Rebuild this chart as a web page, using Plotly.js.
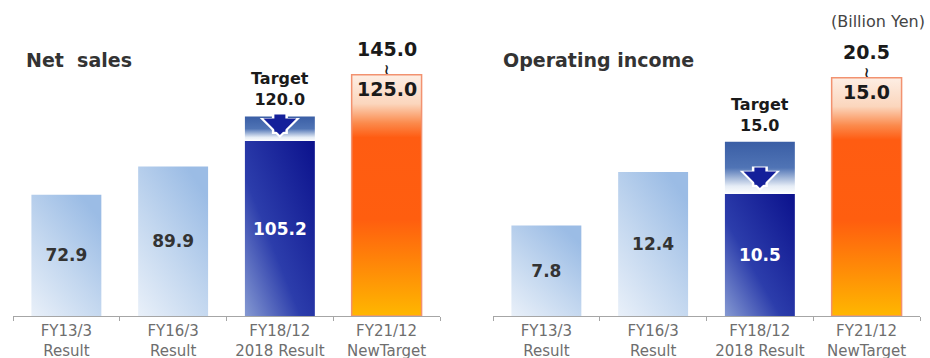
<!DOCTYPE html>
<html>
<head>
<meta charset="utf-8">
<script src="https://cdn.plot.ly/plotly-3.0.1.min.js"></script>
<style>html,body{margin:0;padding:0;background:#fff;}#chart{width:930px;height:358px;}</style>
</head>
<body>
<div id="chart"></div>
<script>
// ---- data ----
const categories = ['FY13/3<br>Result', 'FY16/3<br>Result', 'FY18/12<br>2018 Result', 'FY21/12<br>NewTarget'];
const salesResults = [72.9, 89.9, 105.2];          // FY13/3, FY16/3, FY18/12
const salesPrevTarget = 120.0;                      // FY18/12 target
const salesNewTarget = [125.0, 145.0];              // FY21/12 range (low, high)
const incomeResults = [7.8, 12.4, 10.5];
const incomePrevTarget = 15.0;
const incomeNewTarget = [15.0, 20.5];
const panelTitles = ['Net  sales', 'Operating income'];
const unitLabel = '(Billion Yen)';

const FONT = 'DejaVu Sans, Verdana, sans-serif';
const fmt = v => v.toFixed(1);

function panelTraces(results, prevTarget, newTarget, xa, ya) {
  const last = results.length - 1;
  return [
    { type: 'bar', x: categories.slice(0, last), y: results.slice(0, last), xaxis: xa, yaxis: ya,
      meta: 'gLight', marker: { color: '#b9cfec' },
      text: results.slice(0, last).map(fmt), textposition: 'inside', insidetextanchor: 'middle',
      textfont: { family: FONT, size: 17, color: '#333', weight: 'bold' }, hoverinfo: 'skip' },
    { type: 'bar', x: [categories[last]], y: [results[last]], xaxis: xa, yaxis: ya,
      meta: 'gDark', marker: { color: '#1f2a9e' },
      text: [fmt(results[last])], textposition: 'inside', insidetextanchor: 'middle',
      textfont: { family: FONT, size: 17, color: '#ffffff', weight: 'bold' }, hoverinfo: 'skip' },
    { type: 'bar', x: [categories[last]], base: [results[last]], y: [prevTarget - results[last]], xaxis: xa, yaxis: ya,
      meta: 'gTarget', marker: { color: '#5176b6', line: { color: '#ffffff', width: 0 } }, hoverinfo: 'skip' },
    { type: 'bar', x: [categories[3]], y: [newTarget[1]], xaxis: xa, yaxis: ya,
      meta: 'gOrange', marker: { color: '#ff6a14', line: { color: '#f29270', width: 1.5 } }, hoverinfo: 'skip' }
  ];
}

function panelAnnotations(results, prevTarget, newTarget, xr, yr) {
  const last = results.length - 1;
  const black = '#1a1a1a';
  return [
    { xref: xr, yref: yr, x: categories[last], y: prevTarget, yanchor: 'bottom', yshift: 5, showarrow: false,
      text: 'Target<br>' + fmt(prevTarget), font: { family: FONT, size: 16, color: black, weight: 'bold' } },
    // white outline arrow (behind)
    { xref: xr, yref: yr, x: categories[last], y: results[last], yshift: 3, text: '', showarrow: true,
      ax: 0, ay: -26, arrowhead: 1, arrowwidth: 16, arrowsize: 0.42, arrowcolor: '#ffffff' },
    // dark blue arrow
    { xref: xr, yref: yr, x: categories[last], y: results[last], yshift: 6, text: '', showarrow: true,
      ax: 0, ay: -22, arrowhead: 1, arrowwidth: 11, arrowsize: 0.5, arrowcolor: '#14209a' },
    { xref: xr, yref: yr, x: categories[3], y: newTarget[1], yanchor: 'bottom', yshift: 13, showarrow: false,
      text: fmt(newTarget[1]), font: { family: FONT, size: 19, color: black, weight: 'bold' } },
    { xref: xr, yref: yr, x: categories[3], y: newTarget[1], yanchor: 'middle', yshift: 6, showarrow: false,
      text: '≀', font: { family: FONT, size: 14, color: black, weight: 'bold' } },
    { xref: xr, yref: yr, x: categories[3], y: newTarget[1], yanchor: 'top', yshift: -1, showarrow: false,
      text: fmt(newTarget[0]), font: { family: FONT, size: 19, color: black, weight: 'bold' } }
  ];
}

const data = [].concat(
  panelTraces(salesResults, salesPrevTarget, salesNewTarget, 'x', 'y'),
  panelTraces(incomeResults, incomePrevTarget, incomeNewTarget, 'x2', 'y2')
);

const xaxisBase = {
  type: 'category', categoryorder: 'array', categoryarray: categories, range: [-0.5, 3.5],
  showline: true, linecolor: '#a6a6a6', linewidth: 1, ticks: 'outside', tickson: 'boundaries',
  ticklen: 4, tickcolor: '#a6a6a6', showgrid: false, zeroline: false, fixedrange: true,
  ticklabelstandoff: 1,
  tickfont: { family: FONT, size: 15, color: '#6e6e6e' }
};
const yaxisBase = { showgrid: false, zeroline: false, showticklabels: false, ticks: '', showline: false, fixedrange: true };

const layout = {
  width: 930, height: 358,
  margin: { l: 0, r: 0, t: 0, b: 42 },
  paper_bgcolor: '#ffffff', plot_bgcolor: '#ffffff',
  showlegend: false, barmode: 'overlay', bargap: 0.345,
  xaxis: Object.assign({}, xaxisBase, { domain: [13 / 930, 440 / 930], anchor: 'y' }),
  yaxis: Object.assign({}, yaxisBase, { range: [0, 190], anchor: 'x' }),
  xaxis2: Object.assign({}, xaxisBase, { domain: [493 / 930, 920 / 930], anchor: 'y2' }),
  yaxis2: Object.assign({}, yaxisBase, { range: [0, 27.2], anchor: 'x2' }),
  annotations: [].concat(
    panelAnnotations(salesResults, salesPrevTarget, salesNewTarget, 'x', 'y'),
    panelAnnotations(incomeResults, incomePrevTarget, incomeNewTarget, 'x2', 'y2'),
    [
      { xref: 'paper', yref: 'paper', x: 24 / 930, y: (316 - 60) / 316, xanchor: 'left', yanchor: 'middle', showarrow: false,
        text: panelTitles[0], font: { family: FONT, size: 19, color: '#333333', weight: 'bold' } },
      { xref: 'paper', yref: 'paper', x: 501 / 930, y: (316 - 60) / 316, xanchor: 'left', yanchor: 'middle', showarrow: false,
        text: panelTitles[1], font: { family: FONT, size: 19, color: '#333333', weight: 'bold' } },
      { xref: 'paper', yref: 'paper', x: 927 / 930, y: (316 - 21) / 316, xanchor: 'right', yanchor: 'middle', showarrow: false,
        text: unitLabel, font: { family: FONT, size: 16, color: '#444444' } }
    ]
  )
};

const gradients = {
  gLight: { x1: 0, y1: 1, x2: 0.7, y2: 0, stops: [[0, '#e9f0f9'], [0.5, '#c3d7ef'], [1, '#9bbce5']] },
  gDark: { x1: 0, y1: 1, x2: 1, y2: 0, stops: [[0, '#8599d2'], [0.4, '#2c3dab'], [1, '#0b118c']] },
  gTarget: { x1: 0, y1: 0, x2: 0, y2: 1, stops: [[0, '#3a5ea5'], [0.5, '#5074b5'], [0.85, '#e6edf6'], [1, '#ffffff']] },
  gOrange: { x1: 0, y1: 0, x2: 0, y2: 1, stops: [[0, '#fdeee4'], [0.12, '#fbd6bd'], [0.2, '#fb8a4c'], [0.26, '#ff5c12'], [0.6, '#ff5e0f'], [1, '#ffb700']] }
};

function applyGradients(gd) {
  const ns = 'http://www.w3.org/2000/svg';
  const svg = gd.querySelector('.main-svg');
  let defs = svg.querySelector('defs');
  if (!defs) { defs = document.createElementNS(ns, 'defs'); svg.insertBefore(defs, svg.firstChild); }
  Object.keys(gradients).forEach(id => {
    const g = gradients[id];
    const lg = document.createElementNS(ns, 'linearGradient');
    lg.setAttribute('id', id);
    lg.setAttribute('x1', g.x1); lg.setAttribute('y1', g.y1);
    lg.setAttribute('x2', g.x2); lg.setAttribute('y2', g.y2);
    g.stops.forEach(s => {
      const st = document.createElementNS(ns, 'stop');
      st.setAttribute('offset', s[0]); st.setAttribute('stop-color', s[1]);
      lg.appendChild(st);
    });
    defs.appendChild(lg);
  });
  gd.querySelectorAll('.barlayer .trace').forEach(tr => {
    const cd = tr.__data__;
    const meta = cd && cd[0] && cd[0].trace && cd[0].trace.meta;
    if (!meta || !gradients[meta]) return;
    tr.querySelectorAll('.point path').forEach(p => { p.style.fill = 'url(#' + meta + ')'; p.style.fillOpacity = 1; });
  });
}

Plotly.newPlot('chart', data, layout, { staticPlot: true, displayModeBar: false })
  .then(gd => applyGradients(gd));
</script>
</body>
</html>
